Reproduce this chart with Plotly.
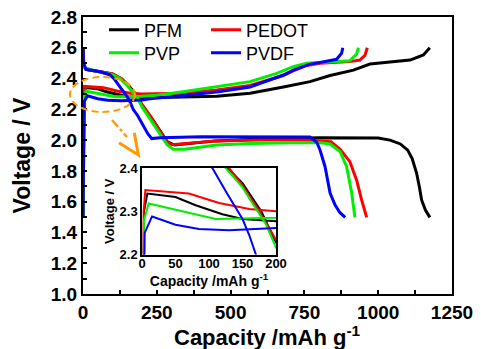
import plotly.graph_objects as go

# ---------------- data (capacity mAh/g, voltage V) ----------------
pfm_dis_cap = [0, 3, 10, 50, 100, 128, 150, 178, 200, 230, 260, 285, 310, 350, 450, 600, 800, 1000, 1040, 1075, 1100, 1115, 1130, 1140, 1147, 1160, 1175]
pfm_dis_v = [2.60, 2.48, 2.46, 2.445, 2.43, 2.40, 2.365, 2.30, 2.228, 2.15, 2.06, 1.99, 1.968, 1.975, 1.995, 2.008, 2.015, 2.013, 2.00, 1.975, 1.935, 1.88, 1.786, 1.69, 1.611, 1.545, 1.498]
pfm_chg_cap = [0, 3, 8, 50, 80, 120, 150, 200, 300, 453, 566, 679, 769, 837, 916, 972, 1029, 1108, 1153, 1165, 1175]
pfm_chg_v = [1.50, 2.30, 2.341, 2.333, 2.314, 2.293, 2.282, 2.277, 2.278, 2.285, 2.304, 2.345, 2.38, 2.42, 2.455, 2.494, 2.505, 2.52, 2.553, 2.575, 2.60]

pedot_dis_cap = [0, 3, 10, 50, 100, 130, 150, 175, 200, 230, 260, 283, 300, 350, 450, 600, 750, 840, 871, 904, 927, 944, 961]
pedot_dis_v = [2.60, 2.48, 2.46, 2.445, 2.43, 2.40, 2.36, 2.30, 2.235, 2.15, 2.06, 1.99, 1.97, 1.978, 1.995, 2.0, 2.0, 1.99, 1.94, 1.86, 1.74, 1.61, 1.498]
pedot_chg_cap = [0, 2.5, 5, 70, 115, 160, 200, 339, 453, 566, 679, 712, 758, 803, 904, 938, 955, 963]
pedot_chg_v = [1.50, 2.30, 2.349, 2.341, 2.319, 2.305, 2.300, 2.305, 2.325, 2.355, 2.42, 2.45, 2.485, 2.50, 2.51, 2.52, 2.55, 2.60]

pvp_dis_cap = [0, 5, 50, 100, 125, 150, 165, 185, 200, 230, 260, 285, 306, 345, 452, 566, 712, 800, 837, 871, 893, 910, 921]
pvp_dis_v = [2.50, 2.47, 2.445, 2.425, 2.40, 2.355, 2.318, 2.27, 2.216, 2.13, 2.04, 1.97, 1.94, 1.94, 1.968, 1.978, 1.983, 1.985, 1.975, 1.925, 1.827, 1.66, 1.498]
pvp_chg_cap = [0, 3, 10, 80, 110, 200, 250, 339, 453, 566, 656, 712, 758, 837, 904, 927, 933]
pvp_chg_v = [1.50, 2.28, 2.318, 2.294, 2.282, 2.285, 2.292, 2.315, 2.347, 2.38, 2.434, 2.477, 2.499, 2.509, 2.515, 2.56, 2.60]

pvdf_dis_cap = [0, 2, 10, 58, 90, 105, 127, 150, 160, 170, 185, 205, 220, 233, 260, 400, 600, 769, 792, 803, 820, 837, 854, 870, 888]
pvdf_dis_v = [2.60, 2.50, 2.46, 2.444, 2.425, 2.40, 2.341, 2.282, 2.245, 2.20, 2.16, 2.09, 2.04, 2.01, 2.015, 2.022, 2.022, 2.02, 1.985, 1.936, 1.827, 1.656, 1.578, 1.53, 1.498]
pvdf_chg_cap = [0, 4, 15, 50, 85, 130, 200, 227, 339, 453, 566, 679, 712, 769, 803, 859, 876, 880]
pvdf_chg_v = [1.50, 2.25, 2.288, 2.269, 2.259, 2.256, 2.261, 2.268, 2.29, 2.312, 2.345, 2.423, 2.455, 2.494, 2.505, 2.525, 2.564, 2.60]

names = ["PFM", "PEDOT", "PVP", "PVDF"]
colors = ["#000000", "#ff0000", "#00ee00", "#0000ff"]
series = [
    (pfm_dis_cap, pfm_dis_v, pfm_chg_cap, pfm_chg_v),
    (pedot_dis_cap, pedot_dis_v, pedot_chg_cap, pedot_chg_v),
    (pvp_dis_cap, pvp_dis_v, pvp_chg_cap, pvp_chg_v),
    (pvdf_dis_cap, pvdf_dis_v, pvdf_chg_cap, pvdf_chg_v),
]
legend_of = ["legend", "legend", "legend2", "legend2"]

FONT = "Liberation Sans, Arial, sans-serif"
W, H = 481, 349
L, R, T, B = 83, 29, 17, 55
PW, PH = W - L - R, H - T - B


def px2paper(x, y):
    return (x - L) / PW, (H - B - y) / PH


fig = go.Figure()
for nm, col, (dc, dv, cc, cv), lg in zip(names, colors, series, legend_of):
    xs = list(dc) + [None] + list(cc)
    ys = list(dv) + [None] + list(cv)
    fig.add_trace(go.Scatter(x=xs, y=ys, mode="lines", name=nm,
                             line=dict(color=col, width=3), legend=lg,
                             xaxis="x", yaxis="y"))
for nm, col, (dc, dv, cc, cv) in zip(names, colors, series):
    xs = list(dc) + [None] + list(cc)
    ys = list(dv) + [None] + list(cv)
    fig.add_trace(go.Scatter(x=xs, y=ys, mode="lines", name=nm, showlegend=False,
                             line=dict(color=col, width=2),
                             xaxis="x2", yaxis="y2"))

ix0, iy0 = px2paper(142, 254.5)
ix1, iy1 = px2paper(276, 168)

axis_common = dict(showline=True, linecolor="black", linewidth=2, mirror=True,
                   showgrid=False, zeroline=False, automargin=False)

fig.update_layout(
    template="none",
    width=W, height=H,
    margin=dict(l=L, r=R, t=T, b=B, autoexpand=False),
    paper_bgcolor="white", plot_bgcolor="white",
    font=dict(family=FONT, color="black"),
    xaxis=dict(axis_common, range=[0, 1250], dtick=250, tick0=0,
               ticks="inside", ticklen=4, tickwidth=1.5, tickcolor="black",
               minor=dict(ticks="inside", ticklen=4, dtick=125, tickcolor="black", tickwidth=1.5),
               tickfont=dict(size=19, weight="bold", family=FONT)),
    yaxis=dict(axis_common, range=[1.0, 2.8], dtick=0.2, tick0=1.0, tickformat=".1f",
               ticks="inside", ticklen=4, tickwidth=1.5, tickcolor="black",
               minor=dict(ticks="inside", ticklen=4, dtick=0.1, tickcolor="black", tickwidth=1.5),
               tickfont=dict(size=19, weight="bold", family=FONT),
               title=dict(text="Voltage / V", standoff=14,
                          font=dict(size=23, weight="bold", family=FONT))),
    xaxis2=dict(axis_common, domain=[ix0, ix1], anchor="y2", range=[0, 200], dtick=50,
                linewidth=1.5, ticks="", ticklabelstandoff=-4,
                tickfont=dict(size=13, weight="bold", family=FONT),
                title=dict(text="Capacity /mAh g<sup>-1</sup>", standoff=0,
                           font=dict(size=14, weight="bold", family=FONT))),
    yaxis2=dict(axis_common, domain=[iy0, iy1], anchor="x2", range=[2.2, 2.4], dtick=0.1,
                tickformat=".1f", linewidth=1.5, ticks="",
                tickfont=dict(size=13, weight="bold", family=FONT),
                title=dict(text="Voltage / V", standoff=2,
                           font=dict(size=13, weight="bold", family=FONT))),
    legend=dict(orientation="h", x=px2paper(104, 0)[0], xanchor="left",
                y=px2paper(0, 30)[1], yanchor="middle",
                bgcolor="rgba(0,0,0,0)", font=dict(size=18, family=FONT),
                entrywidth=57, entrywidthmode="pixels", itemwidth=30),
    legend2=dict(orientation="h", x=px2paper(104, 0)[0], xanchor="left",
                 y=px2paper(0, 53)[1], yanchor="middle",
                 bgcolor="rgba(0,0,0,0)", font=dict(size=18, family=FONT),
                 entrywidth=57, entrywidthmode="pixels", itemwidth=30),
)

# main x-axis title as a paper annotation (placed lower than plotly's default)
tx, ty = px2paper(267, 335.5)
fig.add_annotation(text="Capacity /mAh g<sup>-1</sup>", xref="paper", yref="paper",
                   x=tx, y=ty, xanchor="center", yanchor="middle", showarrow=False,
                   font=dict(size=22, weight="bold", family=FONT, color="black"))

ORANGE = "#ff9a00"
ex0, ey0 = px2paper(70, 112)
ex1, ey1 = px2paper(135, 77)
fig.add_shape(type="circle", xref="paper", yref="paper", x0=ex0, y0=ey0, x1=ex1, y1=ey1,
              line=dict(color=ORANGE, width=2, dash="7px,4px"))
lx0, ly0 = px2paper(112, 120)
lx1, ly1 = px2paper(127, 137)
fig.add_shape(type="line", xref="paper", yref="paper", x0=lx0, y0=ly0, x1=lx1, y1=ly1,
              line=dict(color=ORANGE, width=2.5, dash="dashdot"))
a = px2paper(119, 142.7)
b = px2paper(138.3, 155)
c = px2paper(134.3, 132.7)
fig.add_shape(type="path", xref="paper", yref="paper",
              path=f"M {a[0]},{a[1]} L {b[0]},{b[1]} L {c[0]},{c[1]}",
              line=dict(color=ORANGE, width=3))

fig.write_html("out.html", config={"displayModeBar": False},
               post_script="document.body.style.margin='0px';document.body.style.overflow='hidden';")
